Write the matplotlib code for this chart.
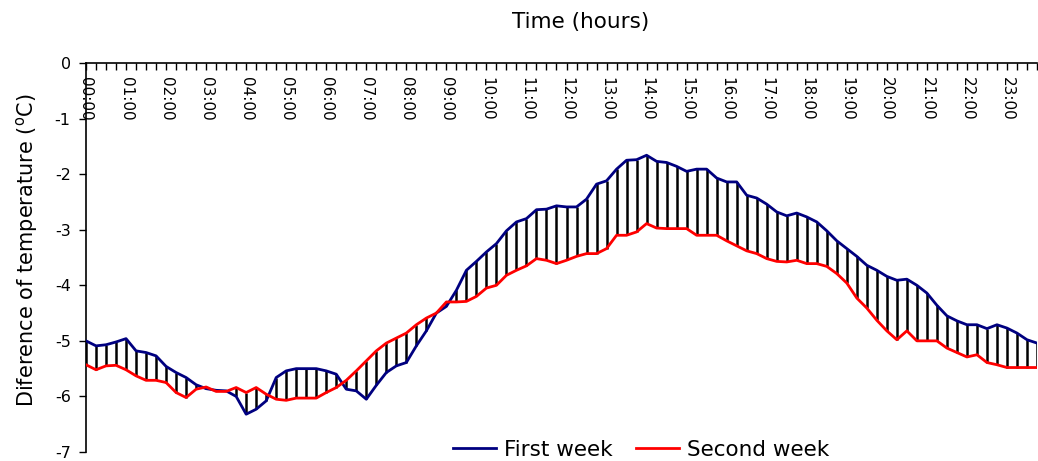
import numpy as np
import matplotlib.pyplot as plt

plt.rcParams['font.family'] = 'DejaVu Sans'
plt.rcParams['axes.unicode_minus'] = False

# temperature difference every 15 minutes (00:00 .. 23:45)
first_week = [
    -5.00, -5.09, -5.07, -5.02, -4.96, -5.18, -5.21, -5.27,   # 00-01
    -5.46, -5.57, -5.66, -5.79, -5.86, -5.89, -5.90, -6.00,   # 02-03
    -6.32, -6.23, -6.08, -5.66, -5.54, -5.50, -5.50, -5.50,   # 04-05
    -5.54, -5.60, -5.87, -5.90, -6.05, -5.80, -5.57, -5.45,   # 06-07
    -5.39, -5.09, -4.82, -4.50, -4.38, -4.09, -3.73, -3.57,   # 08-09
    -3.40, -3.25, -3.02, -2.86, -2.80, -2.64, -2.63, -2.57,   # 10-11
    -2.59, -2.59, -2.45, -2.18, -2.12, -1.91, -1.75, -1.74,   # 12-13
    -1.66, -1.77, -1.79, -1.86, -1.95, -1.91, -1.91, -2.07,   # 14-15
    -2.14, -2.14, -2.38, -2.43, -2.54, -2.68, -2.75, -2.70,   # 16-17
    -2.77, -2.86, -3.02, -3.20, -3.34, -3.48, -3.64, -3.73,   # 18-19
    -3.84, -3.91, -3.89, -4.00, -4.14, -4.36, -4.55, -4.64,   # 20-21
    -4.71, -4.71, -4.78, -4.71, -4.77, -4.86, -4.98, -5.04,   # 22-23
]
second_week = [
    -5.43, -5.52, -5.45, -5.44, -5.52, -5.63, -5.71, -5.71,
    -5.75, -5.93, -6.02, -5.87, -5.83, -5.91, -5.91, -5.84,
    -5.93, -5.84, -5.96, -6.05, -6.07, -6.03, -6.03, -6.03,
    -5.93, -5.84, -5.71, -5.54, -5.36, -5.18, -5.04, -4.95,
    -4.86, -4.71, -4.59, -4.50, -4.30, -4.30, -4.29, -4.20,
    -4.05, -4.00, -3.82, -3.73, -3.65, -3.52, -3.55, -3.61,
    -3.55, -3.48, -3.43, -3.43, -3.34, -3.10, -3.10, -3.04,
    -2.89, -2.97, -2.98, -2.98, -2.98, -3.10, -3.10, -3.10,
    -3.20, -3.29, -3.38, -3.43, -3.52, -3.57, -3.58, -3.55,
    -3.61, -3.61, -3.66, -3.79, -3.96, -4.23, -4.41, -4.63,
    -4.82, -4.98, -4.82, -5.00, -5.00, -5.00, -5.13, -5.21,
    -5.29, -5.25, -5.39, -5.43, -5.48, -5.48, -5.48, -5.48,
]
hour_labels = ['%02d:00' % h for h in range(24)]
yticks = [0, -1, -2, -3, -4, -5, -6, -7]

first = np.array(first_week)
second = np.array(second_week)
x = np.arange(len(first))

fig = plt.figure(figsize=(10.38, 4.61), dpi=100)
ax = fig.add_axes([86/1038, 9/461, 951/1038, 389/461])

# high-low lines between the two weeks
ax.vlines(x, np.minimum(first, second), np.maximum(first, second),
          color='black', lw=1.8, zorder=2)
ax.plot(x, first, color='#000080', lw=2.0, label='First week', zorder=3)
ax.plot(x, second, color='#ff0000', lw=2.0, label='Second week', zorder=3)

ax.set_xlim(0, len(x) - 1)
ax.set_ylim(-7, 0)
ax.set_yticks(yticks)
ax.set_yticklabels([str(v) for v in yticks], fontsize=11.5)
ax.tick_params(axis='y', direction='out', length=5, width=1, pad=6)

# category axis sits at y=0, ticks hang down, labels inside the plot
ax.xaxis.tick_top()
ax.set_xticks(x)
ax.set_xticklabels([])
ax.tick_params(axis='x', direction='in', length=5, width=1)
for h, lab in enumerate(hour_labels):
    ax.text(h * 4, -0.26, lab, rotation=-90, ha='center', va='top', fontsize=11)

for s in ['right', 'bottom']:
    ax.spines[s].set_visible(False)
for s in ['top', 'left']:
    ax.spines[s].set_linewidth(1.2)

fig.text(581/1038, 1 - 22/461, 'Time (hours)', ha='center', va='center', fontsize=15.5)
fig.text(27/1038, 1 - 250/461, r'Diference of temperature ($^\mathrm{o}$C)',
         rotation=90, ha='center', va='center', fontsize=15)

fig.legend(loc='center', bbox_to_anchor=(641/1038, 11/461), ncol=2, frameon=False,
           fontsize=15.5, handlelength=2.0, handletextpad=0.35, columnspacing=1.1)

fig.savefig('out.png', dpi=100)
